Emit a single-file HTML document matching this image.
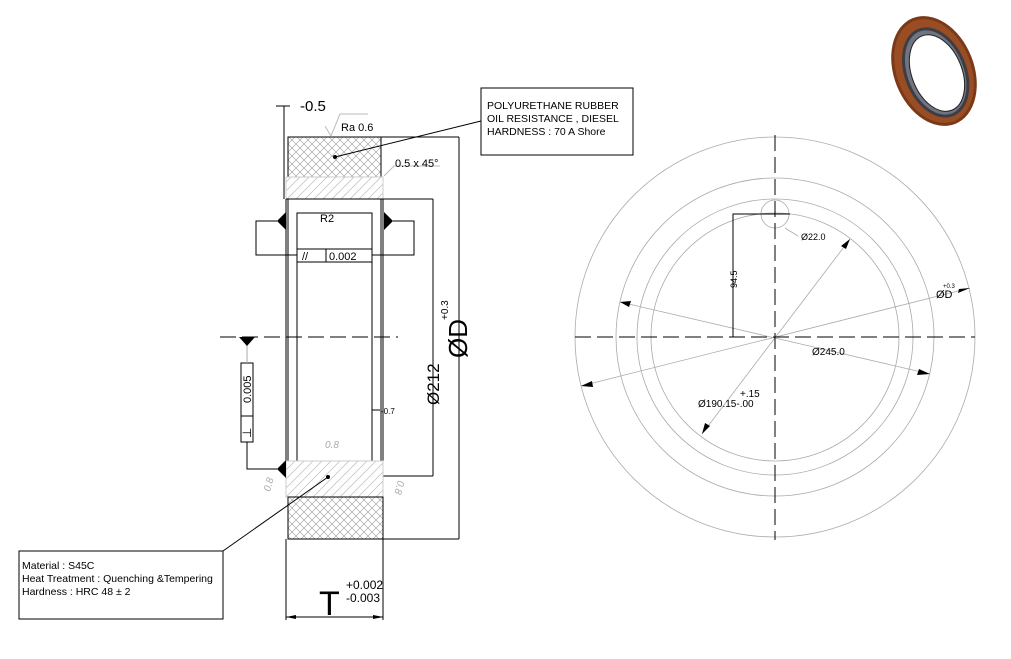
<!DOCTYPE html>
<html><head><meta charset="utf-8"><style>
html,body{margin:0;padding:0;background:#fff;}
svg{display:block;font-family:"Liberation Sans",Arial,sans-serif;}
</style></head><body>
<svg width="1011" height="659" viewBox="0 0 1011 659" xmlns="http://www.w3.org/2000/svg">
<defs>
<pattern id="xh" width="8" height="8" patternUnits="userSpaceOnUse">
<path d="M0 0L8 8M8 0L0 8" stroke="#999" stroke-width="0.6"/>
</pattern>
<pattern id="hh" width="9" height="9" patternUnits="userSpaceOnUse">
<path d="M0 9L9 0M-1 1L1 -1M8 10L10 8" stroke="#bbb" stroke-width="0.7"/>
</pattern>
</defs>
<rect width="1011" height="659" fill="#fff"/>

<g stroke="#000" stroke-width="1" fill="none">
<rect x="288" y="137" width="93" height="40" fill="url(#xh)"/>
<rect x="286" y="177" width="97" height="22" fill="url(#hh)" stroke="#ccc"/>
<line x1="286" y1="199" x2="433" y2="199"/>
<line x1="381" y1="137" x2="459" y2="137"/>
<line x1="459" y1="137" x2="459" y2="539"/>
<line x1="433" y1="199" x2="433" y2="476"/>
<line x1="383" y1="476" x2="433" y2="476"/>
<line x1="284" y1="106" x2="284" y2="199"/>
<line x1="276" y1="106" x2="290" y2="106"/>
<line x1="286" y1="199" x2="286" y2="461"/>
<line x1="383" y1="199" x2="383" y2="461"/>
<line x1="288" y1="199" x2="288" y2="461"/>
<line x1="381" y1="199" x2="381" y2="461"/>
<rect x="297" y="213" width="75" height="248"/>
<rect x="286" y="461" width="97" height="36" fill="url(#hh)" stroke="#ccc"/>
<rect x="288" y="497" width="95" height="42" fill="url(#xh)"/>
<line x1="383" y1="539" x2="459" y2="539"/>
<line x1="286" y1="539" x2="286" y2="620"/>
<line x1="383" y1="539" x2="383" y2="620"/>
<line x1="286" y1="617" x2="383" y2="617"/>
<rect x="297" y="249" width="75" height="13" fill="#fff"/>
<line x1="326" y1="249" x2="326" y2="262"/>
<polyline points="277,221 256,221 256,255 297,255"/>
<polyline points="393,221 414,221 414,255 372,255"/>
<rect x="241" y="363" width="12" height="79" fill="#fff"/>
<line x1="241" y1="416" x2="253" y2="416"/>
<polyline points="247,442 247,469 277,469"/>
<line x1="247" y1="345" x2="247" y2="363" stroke="#aaa"/>
<line x1="372" y1="410" x2="380" y2="410"/>
<line x1="335" y1="157" x2="481" y2="121"/>
<line x1="328" y1="477" x2="223" y2="551"/>
<rect x="481" y="88" width="152" height="67"/>
<rect x="19" y="551" width="204" height="68"/>
</g>
<line x1="220" y1="337" x2="398" y2="337" stroke="#000" stroke-dasharray="16,6"/>
<g fill="#000">
<circle cx="335" cy="157" r="2"/><circle cx="328" cy="477" r="2"/>
<polygon points="277,221 286,212 286,230"/>
<polygon points="393,221 384,212 384,230"/>
<polygon points="277,469 286,460 286,478"/>
<polygon points="239,337 255,337 247,346"/>
<polygon points="286,617 296,615 296,619"/>
<polygon points="383,617 373,615 373,619"/>
</g>
<polyline points="325,126 331,136 340,114 368,114" stroke="#bbb" fill="none"/>
<polyline points="384,176 394,166 440,166" stroke="#bbb" fill="none"/>
<g fill="#000" font-size="11">
<text x="300" y="111" font-size="15">-0.5</text>
<text x="341" y="131">Ra 0.6</text>
<text x="395" y="167">0.5 x 45°</text>
<text x="320" y="222">R2</text>
<text x="329" y="260">0.002</text>
<text x="302" y="260" font-size="11">//</text>
<text x="381" y="414" font-size="8">-0.7</text>
<text transform="translate(251,403) rotate(-90)" font-size="11">0.005</text>
<text transform="translate(251,438) rotate(-90)" font-size="12">⊥</text>
<text transform="translate(439,405) rotate(-90)" font-size="17">Ø212</text>
<text transform="translate(467,358) rotate(-90)" font-size="26">ØD</text>
<text transform="translate(448,320) rotate(-90)" font-size="10">+0.3</text>
<text x="319" y="615" font-size="34">T</text>
<text x="346" y="589" font-size="12">+0.002</text>
<text x="346" y="602" font-size="12">-0.003</text>
<text x="487" y="109" font-size="10.5">POLYURETHANE RUBBER</text>
<text x="487" y="122" font-size="10.5">OIL RESISTANCE , DIESEL</text>
<text x="487" y="135" font-size="10.5">HARDNESS : 70 A Shore</text>
<text x="22" y="569" font-size="10.5">Material : S45C</text>
<text x="22" y="582" font-size="10.5">Heat Treatment : Quenching &amp;Tempering</text>
<text x="22" y="595" font-size="10.5">Hardness : HRC 48 ± 2</text>
</g>
<g fill="#aaa" font-size="10" font-style="italic">
<text x="325" y="448">0.8</text>
<text transform="translate(270,492) rotate(-75)">0.8</text>
<text transform="translate(398,480) rotate(105)">0.8</text>
</g>

<g stroke="#aaa" stroke-width="0.8" fill="none">
<circle cx="775" cy="337" r="200"/>
<circle cx="775" cy="337" r="159"/>
<circle cx="775" cy="337" r="138"/>
<circle cx="775" cy="337" r="124"/>
<circle cx="775" cy="214" r="14"/>
<line x1="620" y1="302" x2="930" y2="374"/>
<line x1="581" y1="386" x2="970" y2="288"/>
<line x1="702" y1="434" x2="850" y2="239"/>
<line x1="785" y1="228" x2="798" y2="236"/>
</g>
<line x1="775" y1="135" x2="775" y2="540" stroke="#000" stroke-dasharray="16,6"/>
<line x1="575" y1="337" x2="975" y2="337" stroke="#000" stroke-dasharray="16,6"/>
<polyline points="733,337 733,214 790,214" stroke="#000" fill="none"/>
<g fill="#000">
<polygon points="620,302 631,301 629,307"/>
<polygon points="930,374 919,369 917,375"/>
<polygon points="581,386 592,381 593,387"/>
<polygon points="970,288 959,289 958,293"/>
<polygon points="702,434 705,423 710,426"/>
<polygon points="850,239 846,249 841,246"/>
</g>
<g fill="#000" font-size="10">
<text x="801" y="240" font-size="9">Ø22.0</text>
<text transform="translate(737,288) rotate(-90)" font-size="9">94.5</text>
<text x="812" y="355">Ø245.0</text>
<text x="936" y="298" font-size="11">ØD</text>
<text x="943" y="288" font-size="6">+0.3</text>
<text x="740" y="397">+.15</text>
<text x="698" y="407">Ø190.15-.00</text>
</g>

<g transform="translate(934,71) rotate(-22)">
<ellipse cx="0" cy="0" rx="40" ry="57" fill="#7a3a1a"/>
<ellipse cx="0" cy="0" rx="37" ry="54" fill="#9a4c22"/>
<ellipse cx="1" cy="2" rx="31" ry="47" fill="#3d3d45"/>
<ellipse cx="1" cy="2" rx="28" ry="44" fill="#707480"/>
<ellipse cx="2" cy="3" rx="25" ry="40" fill="#fff" stroke="#222" stroke-width="1"/>
</g>
</svg>
</body></html>
